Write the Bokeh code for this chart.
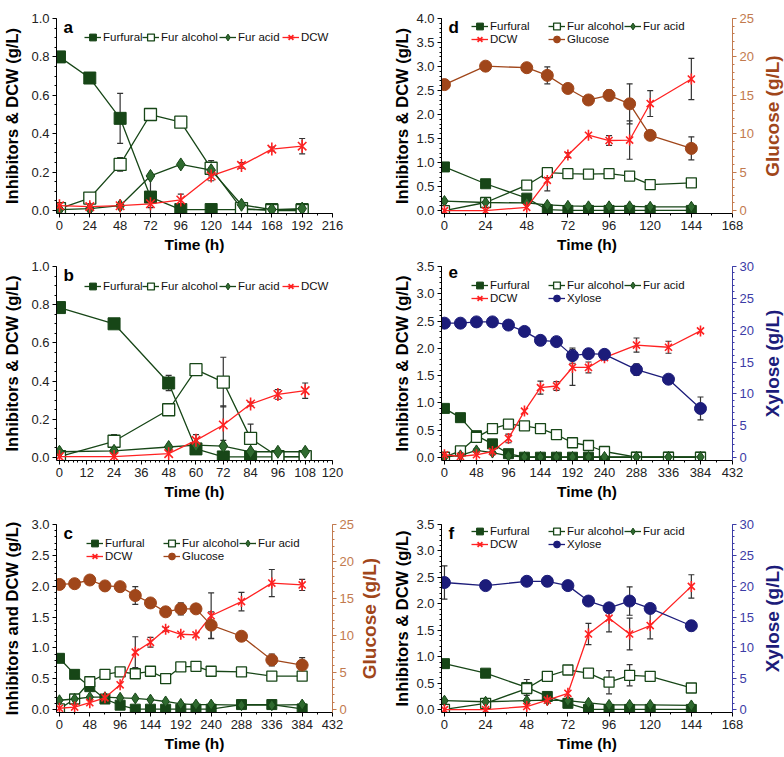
import numpy as np
from bokeh.plotting import figure
from bokeh.models import (Range1d, LinearAxis, FixedTicker, NumeralTickFormatter,
                          Legend, LegendItem, Whisker, TeeHead, ColumnDataSource, Label, Title)
from bokeh.layouts import column, row
from bokeh.embed import file_html
from bokeh.resources import INLINE

FONT = "Liberation Sans"
GREEN = "#174617"
ACID = "#2f6a2f"
RED = "#ff2222"
BROWN = "#a0461a"
BROWN_AX = "#c27a4e"
NAVY = "#1c1c7a"
NAVY_AX = "#3c3ca6"
ERR = "#333333"

# ---------------- data ----------------
# panel a
a_time = [0, 24, 48, 72, 96, 120, 144, 168, 192]
a_furfural = [0.80, 0.69, 0.48, 0.07, 0.005, 0.005, 0.005, 0.005, 0.005]
a_furfural_err = [0.01, 0.01, 0.13, 0.11, 0, 0, 0, 0, 0]
a_alcohol = [0.01, 0.065, 0.24, 0.50, 0.46, 0.22, 0.01, 0.0, 0.0]
a_alcohol_err = [0, 0, 0.035, 0.015, 0.02, 0.04, 0, 0, 0]
a_acid = [0.005, 0.01, 0.025, 0.18, 0.24, 0.21, 0.03, 0.005, 0.01]
a_acid_err = [0, 0, 0, 0, 0, 0, 0, 0, 0]
a_dcw = [0.025, 0.02, 0.025, 0.035, 0.055, 0.18, 0.235, 0.32, 0.335]
a_dcw_err = [0, 0, 0, 0.02, 0.03, 0.025, 0.015, 0.01, 0.04]

# panel b
b_time = [0, 24, 48, 60, 72, 84, 96, 108]
b_furfural = [0.785, 0.70, 0.39, 0.045, 0.003, 0.003, 0.003, 0.003]
b_furfural_err = [0.01, 0.01, 0.04, 0, 0, 0, 0, 0]
b_alcohol = [0.005, 0.085, 0.25, 0.46, 0.395, 0.10, 0.005, 0.005]
b_alcohol_err = [0, 0.035, 0.01, 0.02, 0.13, 0.075, 0, 0]
b_acid = [0.03, 0.035, 0.055, 0.065, 0.06, 0.03, 0.03, 0.03]
b_acid_err = [0, 0, 0, 0, 0.03, 0, 0, 0]
b_dcw = [0.005, 0.005, 0.02, 0.09, 0.17, 0.28, 0.33, 0.35]
b_dcw_err = [0, 0, 0, 0.03, 0.1, 0.01, 0.025, 0.04]

# panel c
c_time = [0, 24, 48, 72, 96, 120, 144, 168, 192, 216, 240, 288, 336, 384]
c_furfural = [0.83, 0.57, 0.37, 0.17, 0.07, 0.005, 0.005, 0.005, 0.005, 0.005, 0.005, 0.08, 0.08, 0.01]
c_furfural_err = [0, 0, 0, 0.05, 0, 0, 0, 0, 0, 0, 0, 0, 0, 0]
c_alcohol = [0.01, 0.17, 0.45, 0.57, 0.61, 0.58, 0.62, 0.50, 0.69, 0.70, 0.62, 0.61, 0.54, 0.54]
c_alcohol_err = [0, 0, 0, 0, 0.03, 0.05, 0.03, 0.05, 0.03, 0, 0.05, 0.025, 0, 0]
c_acid = [0.15, 0.17, 0.20, 0.20, 0.19, 0.18, 0.16, 0.13, 0.09, 0.08, 0.08, 0.07, 0.07, 0.08]
c_acid_err = [0] * 14
c_dcw = [0.02, 0.04, 0.11, 0.19, 0.40, 0.93, 1.09, 1.30, 1.22, 1.21, 1.52, 1.75, 2.05, 2.02]
c_dcw_err = [0, 0, 0, 0, 0, 0.25, 0.08, 0.03, 0, 0, 0.37, 0.15, 0.22, 0.09]
c_glucose = [16.9, 17.0, 17.5, 16.7, 16.6, 15.4, 14.4, 13.2, 13.6, 13.6, 11.4, 9.9, 6.7, 6.0]
c_glucose_err = [0, 0, 0, 0, 0, 1.2, 0, 0, 0.8, 0, 1.8, 0, 0.8, 1.0]

# panel d
d_time = [0, 24, 48, 60, 72, 84, 96, 108, 120, 144]
d_furfural = [0.91, 0.56, 0.26, 0.02, 0.005, 0.005, 0.005, 0.005, 0.005, 0.005]
d_furfural_err = [0] * 10
d_alcohol = [0.0, 0.17, 0.53, 0.79, 0.77, 0.76, 0.77, 0.72, 0.54, 0.58]
d_alcohol_err = [0, 0, 0.05, 0.08, 0.02, 0.02, 0, 0.05, 0.03, 0]
d_acid = [0.20, 0.17, 0.16, 0.12, 0.10, 0.09, 0.09, 0.09, 0.08, 0.08]
d_acid_err = [0] * 10
d_dcw = [0.0, 0.0, 0.07, 0.63, 1.16, 1.57, 1.46, 1.47, 2.23, 2.74]
d_dcw_err = [0, 0, 0, 0.22, 0.05, 0, 0.1, 0.4, 0.27, 0.43]
d_glucose = [16.4, 18.8, 18.6, 17.6, 15.9, 14.4, 15.0, 13.9, 9.8, 8.1]
d_glucose_err = [0, 0, 0, 1.1, 0, 0, 0.7, 2.6, 0, 1.5]

# panel e
e_time = [0, 24, 48, 72, 96, 120, 144, 168, 192, 216, 240, 288, 336, 384]
e_furfural = [0.90, 0.73, 0.40, 0.25, 0.07, 0.005, 0.005, 0.005, 0.005, 0.005, 0.005, 0.005, 0.005, 0.005]
e_furfural_err = [0] * 14
e_alcohol = [0.005, 0.12, 0.37, 0.53, 0.61, 0.58, 0.53, 0.42, 0.27, 0.22, 0.11, 0.005, 0.005, 0.005]
e_alcohol_err = [0, 0, 0, 0, 0.02, 0.03, 0.05, 0.07, 0.05, 0.04, 0, 0, 0, 0]
e_acid = [0.005, 0.04, 0.13, 0.09, 0.03, 0.01, 0.01, 0.01, 0.01, 0.01, 0.01, 0.01, 0.01, 0.01]
e_acid_err = [0, 0, 0.03, 0, 0, 0, 0, 0, 0, 0, 0, 0, 0, 0]
e_dcw = [0.05, 0.02, 0.05, 0.11, 0.35, 0.85, 1.28, 1.31, 1.65, 1.65, 1.83, 2.06, 2.02, 2.32]
e_dcw_err = [0, 0, 0, 0, 0.08, 0, 0.12, 0.08, 0.33, 0.1, 0, 0.13, 0.11, 0]
e_xylose = [21.1, 21.1, 21.3, 21.3, 20.8, 19.8, 18.4, 18.2, 16.0, 16.3, 16.2, 13.8, 12.3, 7.7]
e_xylose_err = [0, 0, 0, 0, 0, 0, 0.7, 0, 1.2, 0, 0, 0.9, 0, 1.8]

# panel f
f_time = [0, 24, 48, 60, 72, 84, 96, 108, 120, 144]
f_furfural = [0.87, 0.69, 0.42, 0.25, 0.12, 0.005, 0.005, 0.005, 0.005, 0.005]
f_furfural_err = [0, 0, 0.15, 0, 0, 0, 0, 0, 0, 0]
f_alcohol = [0.005, 0.12, 0.40, 0.63, 0.75, 0.69, 0.52, 0.65, 0.63, 0.41]
f_alcohol_err = [0, 0, 0, 0.04, 0.03, 0.03, 0.22, 0.2, 0.05, 0.08]
f_acid = [0.17, 0.15, 0.17, 0.18, 0.17, 0.13, 0.09, 0.09, 0.09, 0.08]
f_acid_err = [0] * 10
f_dcw = [0.0, 0.0, 0.06, 0.18, 0.31, 1.43, 1.73, 1.43, 1.59, 2.33]
f_dcw_err = [0, 0, 0, 0, 0, 0.2, 0.26, 0.3, 0.25, 0.22]
f_xylose = [20.6, 20.1, 20.8, 20.8, 20.1, 17.6, 16.5, 17.6, 16.4, 13.6]
f_xylose_err = [2.7, 0, 0, 0.8, 0, 0, 0.6, 2.3, 0, 0.8]

PAD = 3  # px of room left of x=0 and below y=0


def add_err(p, t, y, err, rname=None):
    t = np.asarray(t, float)
    y = np.asarray(y, float)
    e = np.asarray(err, float)
    m = e > 0
    if not m.any():
        return
    src = ColumnDataSource(dict(x=t[m], lo=y[m] - e[m], hi=y[m] + e[m]))
    w = Whisker(source=src, base="x", lower="lo", upper="hi", dimension="height",
                line_color=ERR, line_width=1.2,
                lower_head=TeeHead(size=6, line_color=ERR, line_width=1.2),
                upper_head=TeeHead(size=6, line_color=ERR, line_width=1.2))
    if rname:
        w.y_range_name = rname
    p.add_layout(w)


def add_series(p, kind, t, y, err, ms, rname=None):
    kw = {} if rname is None else {"y_range_name": rname}
    rs = []
    if kind == "Furfural":
        rs.append(p.line(t, y, line_color=GREEN, line_width=1.3, **kw))
        rs.append(p.scatter(t, y, marker="square", size=ms, fill_color=GREEN, line_color=GREEN, **kw))
    elif kind == "Fur alcohol":
        rs.append(p.line(t, y, line_color=GREEN, line_width=1.3, **kw))
        rs.append(p.scatter(t, y, marker="square", size=ms, fill_color="white", line_color=GREEN,
                            line_width=1.3, **kw))
    elif kind == "Fur acid":
        rs.append(p.line(t, y, line_color=GREEN, line_width=1.3, **kw))
        rs.append(p.scatter(t, y, marker="diamond", size=ms + 1, fill_color=ACID, line_color=GREEN, **kw))
    elif kind == "DCW":
        rs.append(p.line(t, y, line_color=RED, line_width=1.3, **kw))
        rs.append(p.scatter(t, y, marker="x", size=ms, line_color=RED, line_width=1.6, **kw))
        rs.append(p.scatter(t, y, marker="dash", angle=np.pi / 2, size=ms + 1, line_color=RED,
                            line_width=1.6, **kw))
    elif kind == "Glucose":
        rs.append(p.line(t, y, line_color=BROWN, line_width=1.3, **kw))
        rs.append(p.scatter(t, y, marker="circle", size=ms + 2, fill_color=BROWN, line_color=BROWN, **kw))
    elif kind == "Xylose":
        rs.append(p.line(t, y, line_color=NAVY, line_width=1.3, **kw))
        rs.append(p.scatter(t, y, marker="circle", size=ms + 2, fill_color=NAVY, line_color=NAVY, **kw))
    add_err(p, t, y, err, rname)
    return rs


def style_axis(ax, color="black", label_color="black", tick_color="#222222", label_std=3,
               label_size="15.5px"):
    ax.axis_line_color = color
    ax.axis_line_width = 1
    ax.major_tick_line_color = color
    ax.minor_tick_line_color = color
    ax.major_tick_out = 4
    ax.major_tick_in = 0
    ax.minor_tick_out = 2
    ax.minor_tick_in = 0
    ax.major_label_text_font = FONT
    ax.major_label_text_font_size = "13px"
    ax.major_label_text_color = tick_color
    ax.major_label_standoff = 3
    ax.axis_label_text_font = FONT
    ax.axis_label_text_font_size = label_size
    ax.axis_label_text_font_style = "bold"
    ax.axis_label_text_color = label_color
    ax.axis_label_standoff = label_std


LEG_ONE_ROW = [(28, 20), (86, 20), (163, 20), (226, 20)]
LEG_TWO_ROW = [(30, 19), (107, 19), (183, 19), (30, 32), (107, 32)]


def make_panel(letter, w, h, bl, br, bt, bb, xmax, xstep, xminor, ymax, ystep, yminor, ylabel,
               series, ms, second=None, ystd=3):
    fw = w - bl - br
    fh = h - bt - bb
    xs = PAD * xmax / (fw - PAD)
    ys = PAD * ymax / (fh - PAD)
    p = figure(width=w, height=h, output_backend="svg", toolbar_location=None,
               x_range=Range1d(-xs, xmax), y_range=Range1d(-ys, ymax),
               min_border_left=bl, min_border_right=br, min_border_top=bt, min_border_bottom=bb)
    p.xgrid.visible = False
    p.ygrid.visible = False
    p.outline_line_color = None
    p.background_fill_color = "white"
    p.border_fill_color = "white"

    p.xaxis.ticker = FixedTicker(ticks=list(np.arange(0, xmax + 1e-9, xstep)),
                                 minor_ticks=list(np.arange(0, xmax + 1e-9, xstep / xminor)))
    p.yaxis.ticker = FixedTicker(ticks=list(np.round(np.arange(0, ymax + 1e-9, ystep), 3)),
                                 minor_ticks=list(np.round(np.arange(0, ymax + 1e-9, ystep / yminor), 4)))
    p.xaxis.formatter = NumeralTickFormatter(format="0")
    p.yaxis.formatter = NumeralTickFormatter(format="0.0")
    p.xaxis.axis_label = "Time (h)"
    p.yaxis.axis_label = ylabel
    style_axis(p.xaxis[0])
    style_axis(p.yaxis[0], label_std=ystd, label_size="16.5px")

    items = []
    for kind, t, y, err in series:
        rs = add_series(p, kind, t, y, err, ms)
        items.append((kind, rs))

    if second is not None:
        kind, t, y, err, rmax = second
        rs_ = PAD * rmax / (fh - PAD)
        p.extra_y_ranges = {"r": Range1d(-rs_, rmax)}
        ax = LinearAxis(y_range_name="r",
                        ticker=FixedTicker(ticks=list(np.arange(0, rmax + 1e-9, 5)),
                                           minor_ticks=list(np.arange(0, rmax + 1e-9, 1))),
                        formatter=NumeralTickFormatter(format="0"))
        col_lab = BROWN if kind == "Glucose" else NAVY
        col_ax = BROWN_AX if kind == "Glucose" else NAVY_AX
        style_axis(ax, color=col_ax, label_color=col_lab, tick_color=col_ax)
        p.add_layout(ax, "right")
        rs = add_series(p, kind, t, y, err, ms, rname="r")
        items.append((kind, rs))
        positions = LEG_TWO_ROW
    else:
        positions = LEG_ONE_ROW

    for (kind, rs), (dx, yc) in zip(items, positions):
        leg = Legend(items=[LegendItem(label=kind, renderers=rs)],
                     location=(dx, fh - yc - 10), orientation="horizontal",
                     label_text_font=FONT, label_text_font_size="11.5px", label_text_color="#111111",
                     glyph_width=17, glyph_height=20, label_height=20, label_standoff=2,
                     spacing=0, padding=0, margin=0, border_line_color=None,
                     background_fill_alpha=0)
        p.add_layout(leg)

    p.add_layout(Label(x=0, y=ymax, x_offset=4, y_offset=1, text=letter, text_font=FONT,
                       text_font_style="bold", text_font_size="17px", text_baseline="top",
                       text_color="black"))
    return p


def right_title(text, color, w, h, bl, bt, bb):
    """Narrow strip holding the secondary-axis title, read from bottom to top."""
    q = figure(width=w, height=h, output_backend="svg", toolbar_location=None,
               x_axis_location=None, y_axis_location=None,
               min_border_left=bl, min_border_right=0, min_border_top=bt, min_border_bottom=bb)
    q.outline_line_color = None
    q.grid.visible = False
    q.background_fill_color = "white"
    q.border_fill_color = "white"
    q.add_layout(Title(text=text, align="center", text_font=FONT, text_font_size="19px",
                       text_font_style="bold", text_color=color, standoff=0, offset=0), "left")
    return q


LW, RW = 390, 366
LBL, LBR = 52, 58
RBL, RBR = 46, 24
H1, H2, H3 = 259, 246, 252

pa = make_panel("a", LW, H1, LBL, LBR, 18, 45, 216, 24, 2, 1.0, 0.2, 4, "Inhibitors & DCW (g/L)",
                [("Furfural", a_time, a_furfural, a_furfural_err),
                 ("Fur alcohol", a_time, a_alcohol, a_alcohol_err),
                 ("Fur acid", a_time, a_acid, a_acid_err),
                 ("DCW", a_time, a_dcw, a_dcw_err)], ms=12, ystd=7)
pb = make_panel("b", LW, H2, LBL, LBR, 7, 45, 120, 12, 6, 1.0, 0.2, 4, "Inhibitors & DCW (g/L)",
                [("Furfural", b_time, b_furfural, b_furfural_err),
                 ("Fur alcohol", b_time, b_alcohol, b_alcohol_err),
                 ("Fur acid", b_time, b_acid, b_acid_err),
                 ("DCW", b_time, b_dcw, b_dcw_err)], ms=12, ystd=7)
pc = make_panel("c", 356, H3, LBL, 24, 19, 45, 432, 48, 2, 3.0, 0.5, 5, "Inhibitors and DCW (g/L)",
                [("Furfural", c_time, c_furfural, c_furfural_err),
                 ("Fur alcohol", c_time, c_alcohol, c_alcohol_err),
                 ("Fur acid", c_time, c_acid, c_acid_err),
                 ("DCW", c_time, c_dcw, c_dcw_err)], ms=10, ystd=7,
                second=("Glucose", c_time, c_glucose, c_glucose_err, 25))
pcl = right_title("Glucose (g/L)", BROWN, 34, H3, 22, 19, 45)
pd_ = make_panel("d", RW, H1, RBL, RBR, 7, 46, 168, 24, 2, 4.0, 0.5, 5, "Inhibitors & DCW (g/L)",
                 [("Furfural", d_time, d_furfural, d_furfural_err),
                  ("Fur alcohol", d_time, d_alcohol, d_alcohol_err),
                  ("Fur acid", d_time, d_acid, d_acid_err),
                  ("DCW", d_time, d_dcw, d_dcw_err)], ms=10, ystd=2,
                 second=("Glucose", d_time, d_glucose, d_glucose_err, 25))
pdl = right_title("Glucose (g/L)", BROWN, 28, H1, 26, 7, 46)
pe = make_panel("e", RW, H2, RBL, RBR, 7, 45, 432, 48, 2, 3.5, 0.5, 5, "Inhibitors & DCW (g/L)",
                [("Furfural", e_time, e_furfural, e_furfural_err),
                 ("Fur alcohol", e_time, e_alcohol, e_alcohol_err),
                 ("Fur acid", e_time, e_acid, e_acid_err),
                 ("DCW", e_time, e_dcw, e_dcw_err)], ms=10, ystd=2,
                second=("Xylose", e_time, e_xylose, e_xylose_err, 30))
pel = right_title("Xylose (g/L)", NAVY, 28, H2, 26, 7, 45)
pf = make_panel("f", RW, H3, RBL, RBR, 7, 45, 168, 24, 2, 3.5, 0.5, 5, "Inhibitors & DCW (g/L)",
                [("Furfural", f_time, f_furfural, f_furfural_err),
                 ("Fur alcohol", f_time, f_alcohol, f_alcohol_err),
                 ("Fur acid", f_time, f_acid, f_acid_err),
                 ("DCW", f_time, f_dcw, f_dcw_err)], ms=10, ystd=2,
                second=("Xylose", f_time, f_xylose, f_xylose_err, 30))
pfl = right_title("Xylose (g/L)", NAVY, 28, H3, 26, 7, 45)

layout = column(row(pa, pd_, pdl), row(pb, pe, pel), row(pc, pcl, pf, pfl))
open("out.html", "w").write(file_html(layout, INLINE))
